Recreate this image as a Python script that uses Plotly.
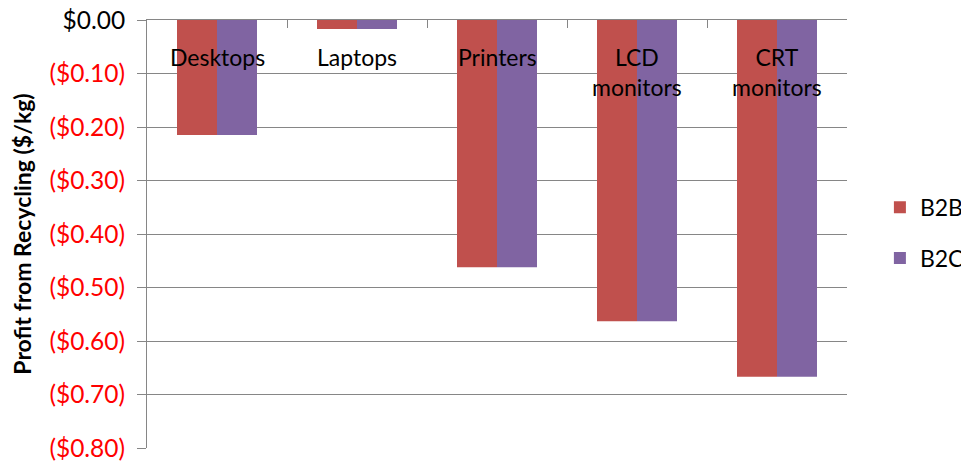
import plotly.graph_objects as go

categories = ["Desktops", "Laptops", "Printers", "LCD monitors", "CRT monitors"]
category_labels = ["Desktops", "Laptops", "Printers", "LCD<br>monitors", "CRT<br>monitors"]
b2b = [-0.215, -0.017, -0.462, -0.563, -0.667]
b2c = [-0.215, -0.017, -0.462, -0.563, -0.667]
tick_vals = [0, -0.1, -0.2, -0.3, -0.4, -0.5, -0.6, -0.7, -0.8]
tick_text = ["$0.00"] + ["<span style='color:#FF0000'>($%.2f)</span>" % abs(v) for v in tick_vals[1:]]

FONT = "Lato, 'Open Sans', sans-serif"
GRID = "#868686"

fig = go.Figure()
fig.add_trace(go.Bar(x=categories, y=b2b, name="B2B", marker_color="#C0504D",
                     marker_line_width=0, legendgroup="a"))
fig.add_trace(go.Bar(x=categories, y=b2c, name="B2C", marker_color="#8064A2",
                     marker_line_width=0, legendgroup="b"))

for cat, lab in zip(categories, category_labels):
    fig.add_annotation(x=cat, y=0, xref="x", yref="y", text=lab, showarrow=False,
                       yanchor="top", xanchor="center", yshift=-21,
                       font=dict(size=23, family=FONT, color="black"))

# page body has an 8px margin, so the figure is 8px smaller than the window
fig.update_layout(
    width=961, height=456,
    margin=dict(l=139, r=122, t=12, b=16, autoexpand=False),
    paper_bgcolor="white", plot_bgcolor="white",
    barmode="group", bargap=0.4286, bargroupgap=0,
    font=dict(family=FONT, size=23, color="black"),
    showlegend=True,
    legend=dict(x=1.047, xanchor="left", y=0.503, yanchor="middle",
                font=dict(size=23), tracegroupgap=18, traceorder="grouped"),
    xaxis=dict(side="top", showticklabels=False, ticks="inside", tickson="boundaries",
               ticklen=8, tickcolor=GRID, showline=True, linecolor=GRID, linewidth=1,
               showgrid=False, automargin=False),
    yaxis=dict(range=[-0.8, 0], tickvals=tick_vals, ticktext=tick_text, automargin=False,
               ticks="outside", ticklen=9, tickcolor=GRID, showline=True, linecolor=GRID,
               showgrid=True, gridcolor=GRID, gridwidth=1, zeroline=False,
               ticklabeloverflow="allow", ticklabelstandoff=7,
               tickfont=dict(size=24.5, family=FONT, color="black"),
               title=dict(text="<b>Profit from Recycling ($/kg)</b>",
                          font=dict(size=23, family=FONT), standoff=13)),
)

fig.write_html("out.html")
